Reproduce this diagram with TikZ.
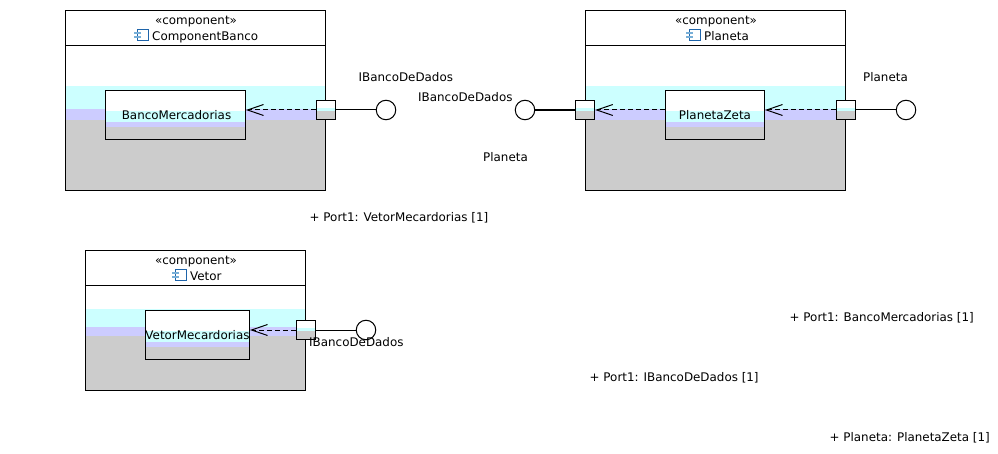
\documentclass[tikz,border=0pt]{standalone}
\usepackage{fontspec}
\setmainfont{DejaVu Sans}
\usetikzlibrary{arrows.meta,positioning,calc}
\definecolor{mycyan}{RGB}{204,255,255}
\definecolor{mylav}{RGB}{204,204,255}
\definecolor{mygray}{RGB}{204,204,204}
\definecolor{myblue}{RGB}{30,100,170}
\definecolor{mysky}{RGB}{120,175,215}
\tikzset{
  bands/.style n args={3}{fill=white, path picture={
    \fill[mycyan] ([yshift=-#1pt]path picture bounding box.north west) rectangle (path picture bounding box.south east);
    \fill[mylav] ([yshift=-#2pt]path picture bounding box.north west) rectangle (path picture bounding box.south east);
    \fill[mygray] ([yshift=-#3pt]path picture bounding box.north west) rectangle (path picture bounding box.south east);
  }},
  compbox/.style={draw, line width=1pt, minimum width=#1, inner sep=0pt},
  titlebox/.style={draw, fill=white, line width=1pt, minimum width=#1, minimum height=35pt, inner sep=0pt},
  partbox/.style={draw, line width=1pt, minimum width=#1, minimum height=49pt, inner sep=0pt, bands={20.5}{31.5}{36.5}},
  portbox/.style={draw, line width=1pt, minimum size=19.5pt, inner sep=0pt, bands={8}{10.5}{11}},
  iface/.style={draw, circle, fill=white, line width=1pt, minimum size=19.5pt, inner sep=0pt},
  depline/.style={line width=1pt, dash pattern=on 5pt off 3pt, -{Straight Barb[length=16pt,width=11pt,line width=1pt]}},
  wire/.style={line width=1pt},
  lbl/.style={anchor=base west, inner sep=0pt},
  stereo/.style={anchor=base, inner sep=0pt},
  compicon/.pic={
    \draw[myblue, line width=1pt] (-14.5,-11) rectangle (-3.5,-0.5);
    \fill[mysky] (-18,-9) rectangle (-11,-6.5);
    \fill[mysky] (-18,-5) rectangle (-11,-2.5);
  }
}
\begin{document}
\begin{tikzpicture}[x=1pt, y=-1pt, every node/.style={font=\fontsize{11.9pt}{14pt}\selectfont}]
  \useasboundingbox (0,0) rectangle (998,454);
  % --- ComponentBanco ---
  \node[compbox=260pt, minimum height=180pt, bands={75.5}{98.5}{109.5}] (bancoBox) at (195.5,100.5) {};
  \node[titlebox=260pt] (bancoTitle) at (195.5,28) {};
  \node[stereo] (bancoStereo) at (196,24.7) {«component»};
  \node[lbl] (bancoName) at (152,40.7) {ComponentBanco};
  \pic at (bancoName.base west) {compicon};
  \node[partbox=140pt] (bancoMerc) at (175.5,115) {\hspace*{2pt}BancoMercadorias};
  \node[portbox] (bancoPort) at (326,110) {};
  \node[iface] (bancoIface) at (386,110) {};
  \draw[wire] (bancoPort) -- (bancoIface);
  \draw[depline] (bancoPort.west) -- (bancoPort.west -| bancoMerc.east);
  % --- Planeta ---
  \node[compbox=260pt, minimum height=180pt, bands={75.5}{98.5}{109.5}] (planetaBox) at (715.5,100.5) {};
  \node[titlebox=260pt] (planetaTitle) at (715.5,28) {};
  \node[stereo] (planetaStereo) at (716,24.7) {«component»};
  \node[lbl] (planetaName) at (704,40.7) {Planeta};
  \pic at (planetaName.base west) {compicon};
  \node[partbox=99pt] (planetaZeta) at (715,115) {PlanetaZeta};
  \node[portbox] (planetaPortL) at (585,110) {};
  \node[portbox] (planetaPortR) at (846,110) {};
  \node[iface] (planetaIfaceL) at (525,110) {};
  \node[iface] (planetaIfaceR) at (906,110) {};
  \draw[wire, line width=1.4pt] (planetaIfaceL) -- (planetaPortL);
  \draw[wire] (planetaPortR) -- (planetaIfaceR);
  \draw[depline] (planetaPortR.west) -- (planetaPortR.west -| planetaZeta.east);
  \draw[depline] (planetaPortL.east -| planetaZeta.west) -- (planetaPortL.east);
  % --- Vetor ---
  \node[compbox=220pt, minimum height=140pt, bands={58.5}{76.5}{85.5}] (vetorBox) at (195.5,320.5) {};
  \node[titlebox=220pt] (vetorTitle) at (195.5,268) {};
  \node[stereo] (vetorStereo) at (196,264.7) {«component»};
  \node[lbl] (vetorName) at (190,280.7) {Vetor};
  \pic at (vetorName.base west) {compicon};
  \node[partbox=104pt] (vetorMec) at (197.5,335) {VetorMecardorias};
  \node[portbox] (vetorPort) at (306,330) {};
  \node[iface] (vetorIface) at (366,330) {};
  \draw[wire] (vetorPort) -- (vetorIface);
  \draw[depline] (vetorPort.west) -- (vetorPort.west -| vetorMec.east);
  % --- free labels ---
  \node[lbl] (lblBancoIface) at (358.5,81.7) {IBancoDeDados};
  \node[lbl] (lblPlanetaL) at (418,101.7) {IBancoDeDados};
  \node[lbl] (lblPlanetaLow) at (483,161.7) {Planeta};
  \node[lbl] (lblPlanetaR) at (863,81.7) {Planeta};
  \node[lbl] (lblVetorIface) at (309,346) {IBancoDeDados};
  \node[lbl] (attrVetor) at (309.5,221.5) {+ Port1: VetorMecardorias [1]};
  \node[lbl] (attrBanco) at (789.5,321.5) {+ Port1: BancoMercadorias [1]};
  \node[lbl] (attrIBanco) at (589.5,381.5) {+ Port1: IBancoDeDados [1]};
  \node[lbl] (attrPlaneta) at (829.5,441.5) {+ Planeta: PlanetaZeta [1]};
\end{tikzpicture}
\end{document}
